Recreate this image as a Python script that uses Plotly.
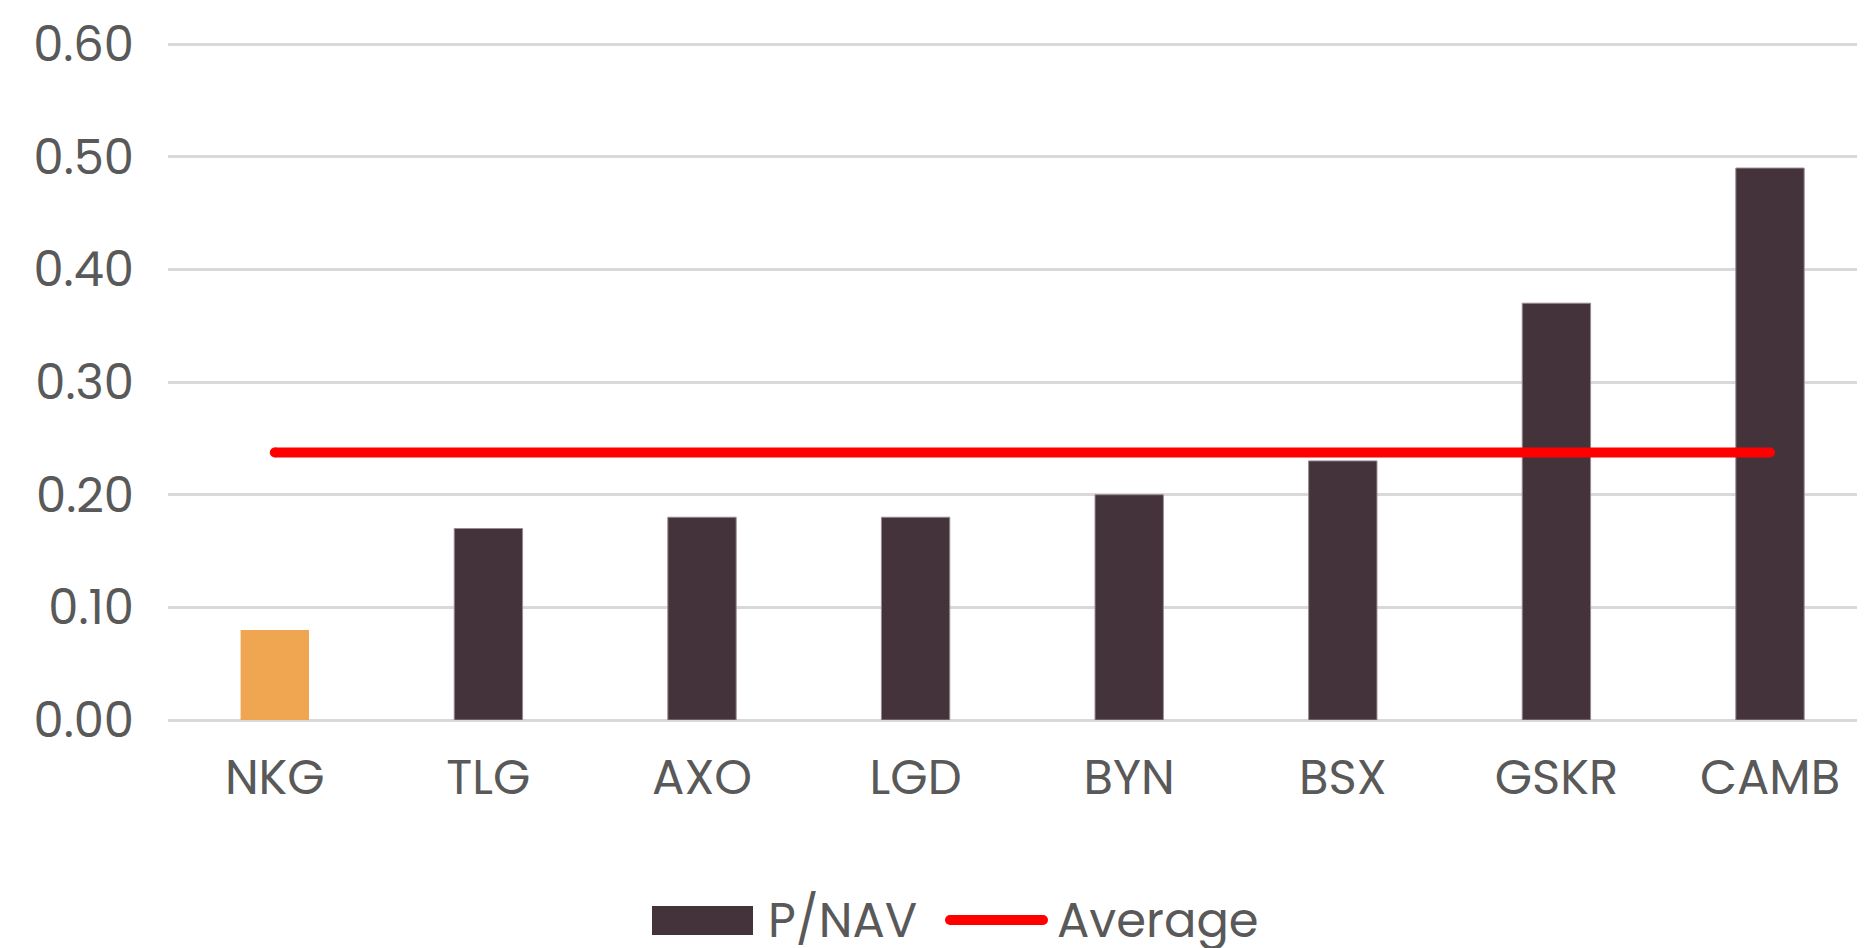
import plotly.graph_objects as go

categories = ["NKG", "TLG", "AXO", "LGD", "BYN", "BSX", "GSKR", "CAMB"]
p_nav = [0.08, 0.17, 0.18, 0.18, 0.20, 0.23, 0.37, 0.49]
average_value = 0.2375
highlight = "NKG"
y_ticks = [0.0, 0.1, 0.2, 0.3, 0.4, 0.5, 0.6]
y_tick_labels = ["0.00", "0.10", "0.20", "0.30", "0.40", "0.50", "0.60"]

BAR = "#45333C"
HIGHLIGHT = "#F0A551"
RED = "#FF0000"
TEXT = "#595959"
GRID = "#D9D9D9"
FONT = "Poppins, Open Sans, sans-serif"

OFF = 8  # page body margin
W, H = 1865 - OFF, 948 - OFF
Y_TOP = 0.601
ML = 168 - OFF
MB = H - (720 - OFF)
PH_REF = 676  # px for 0..0.6
MT = (44 - OFF) - round(PH_REF / 0.6 * (Y_TOP - 0.6))
MR = 0
PW, PH = W - ML - MR, H - MT - MB

colors = [HIGHLIGHT if c == highlight else BAR for c in categories]
line_colors = ["rgba(240,165,81,0)" if c == highlight else "#9a8a92" for c in categories]

fig = go.Figure()
fig.add_trace(go.Bar(
    x=categories, y=p_nav, name="P/NAV",
    marker=dict(color=colors, line=dict(color=line_colors, width=1)),
    showlegend=False,
))
fig.add_trace(go.Scatter(
    x=[categories[0], categories[-1]], y=[average_value, average_value],
    mode="lines+markers", name="Average",
    line=dict(color=RED, width=10),
    marker=dict(color=RED, size=10),
    showlegend=False,
))

def px(x):
    return (x - OFF - ML) / PW

def py(y):
    return (H - MB - (y - OFF)) / PH

# custom legend (drawn to match the reference's large legend keys)
shapes = [
    dict(type="rect", xref="paper", yref="paper",
         x0=px(652), x1=px(753), y0=py(935), y1=py(906),
         fillcolor=BAR, line=dict(width=0)),
    dict(type="line", xref="paper", yref="paper",
         x0=px(950), x1=px(1043), y0=py(920), y1=py(920),
         line=dict(color=RED, width=10)),
    dict(type="circle", xref="paper", yref="paper",
         x0=px(945), x1=px(955), y0=py(925), y1=py(915),
         fillcolor=RED, line=dict(width=0)),
    dict(type="circle", xref="paper", yref="paper",
         x0=px(1038), x1=px(1048), y0=py(925), y1=py(915),
         fillcolor=RED, line=dict(width=0)),
]
annotations = [
    dict(text="P/NAV", xref="paper", yref="paper", x=px(766), y=py(920),
         xanchor="left", yanchor="middle", showarrow=False,
         font=dict(family=FONT, size=48, color=TEXT)),
    dict(text="Average", xref="paper", yref="paper", x=px(1055), y=py(920),
         xanchor="left", yanchor="middle", showarrow=False,
         font=dict(family=FONT, size=48, color=TEXT)),
]

fig.update_layout(
    width=W, height=H,
    margin=dict(l=ML, r=MR, t=MT, b=MB, pad=0),
    paper_bgcolor="white", plot_bgcolor="white",
    bargap=0.68,
    font=dict(family=FONT, color=TEXT, size=48),
    shapes=shapes, annotations=annotations,
    xaxis=dict(
        range=[-0.5, -0.5 + PW / 213.6], showgrid=False, zeroline=False,
        showline=False, ticks="", ticklabelstandoff=25,
        tickfont=dict(family=FONT, size=48, color=TEXT),
        fixedrange=True,
    ),
    yaxis=dict(
        range=[0, Y_TOP], tickvals=y_ticks, ticktext=y_tick_labels,
        showgrid=True, gridcolor=GRID, gridwidth=3,
        zeroline=True, zerolinecolor=GRID, zerolinewidth=3,
        showline=False, ticks="", ticklabelstandoff=33,
        tickfont=dict(family=FONT, size=48, color=TEXT),
        fixedrange=True,
    ),
)

fig.write_html("out.html", config={"displayModeBar": False})
